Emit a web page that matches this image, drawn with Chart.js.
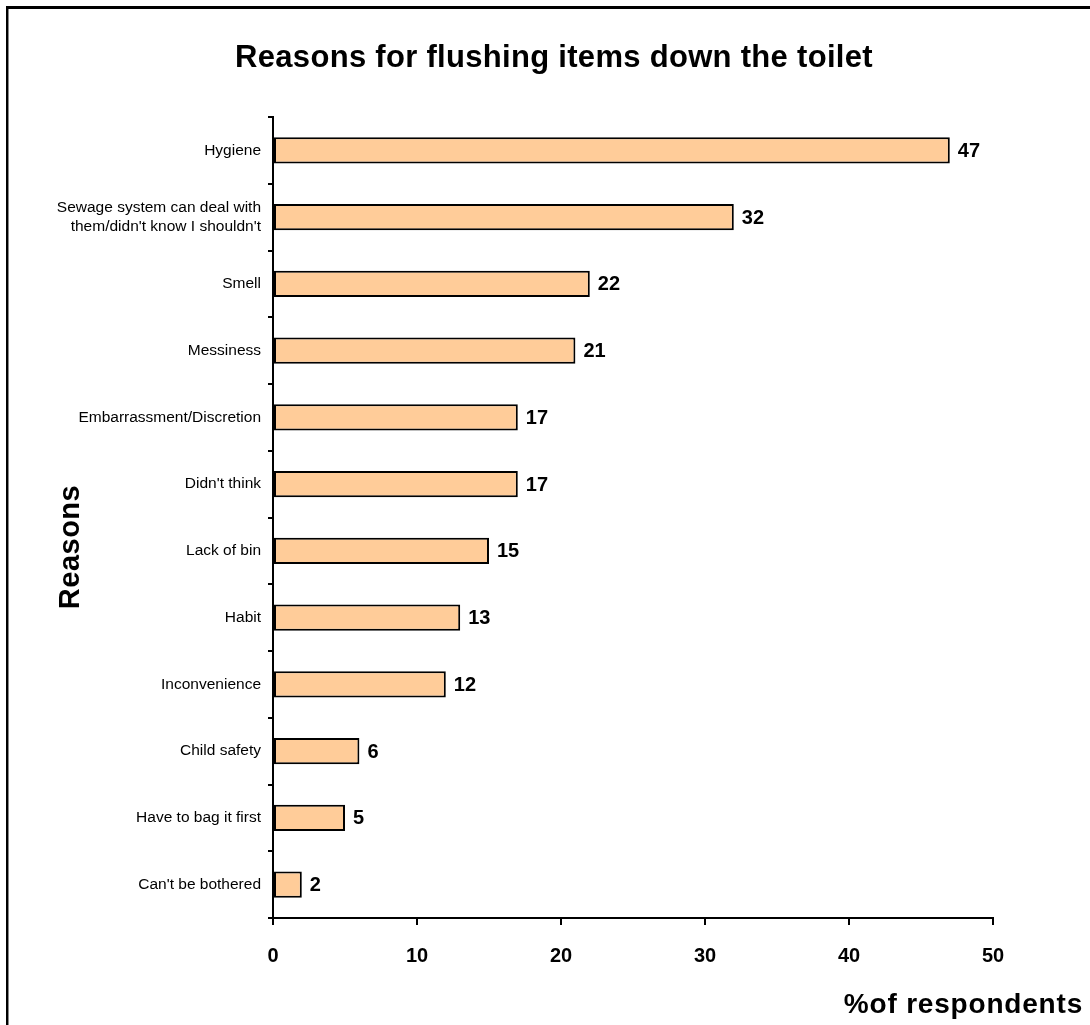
<!DOCTYPE html>
<html><head><meta charset="utf-8">
<script src="https://cdn.jsdelivr.net/npm/chart.js@4/dist/chart.umd.min.js"></script>
<style>html,body{margin:0;padding:0;background:#fff;overflow:hidden}#wrap{position:relative;width:1090px;height:1025px}</style>
</head><body><div id="wrap"><canvas id="c" width="1090" height="1025"></canvas></div>
<script>
const categories = [
  "Hygiene",
  ["Sewage system can deal with", "them/didn't know I shouldn't"],
  "Smell",
  "Messiness",
  "Embarrassment/Discretion",
  "Didn't think",
  "Lack of bin",
  "Habit",
  "Inconvenience",
  "Child safety",
  "Have to bag it first",
  "Can't be bothered"
];
const values = [47, 32, 22, 21, 17, 17, 15, 13, 12, 6, 5, 2];
const xTickValues = [0, 10, 20, 30, 40, 50];
const chartTitle = "Reasons for flushing items down the toilet";
const yTitle = "Reasons";
const xTitle = "%of respondents";

const FONT = "'Liberation Sans', Arial, sans-serif";

function setSpacing(ctx, v) { try { ctx.letterSpacing = v; } catch (e) {} }

const decor = {
  id: 'decor',
  afterDraw(chart) {
    const ctx = chart.ctx;
    ctx.save();
    // frame
    ctx.fillStyle = '#000';
    ctx.fillRect(6, 6, 1084, 3);
    ctx.fillRect(6, 6, 2, 1019);
    ctx.fillStyle = '#888';
    ctx.fillRect(8, 9, 1, 1016);
    // title
    ctx.fillStyle = '#000';
    ctx.font = "bold 31px " + FONT;
    ctx.textAlign = 'center';
    ctx.textBaseline = 'alphabetic';
    setSpacing(ctx, '0.3px');
    ctx.fillText(chartTitle, 554, 67);
    // y title
    ctx.save();
    ctx.translate(71, 547);
    ctx.rotate(-Math.PI / 2);
    ctx.font = "bold 29px " + FONT;
    ctx.textBaseline = 'middle';
    setSpacing(ctx, '0.5px');
    ctx.fillText(yTitle, 0, 0);
    ctx.restore();
    // x title
    ctx.font = "bold 28px " + FONT;
    ctx.textAlign = 'right';
    ctx.textBaseline = 'alphabetic';
    setSpacing(ctx, '0.8px');
    ctx.fillText(xTitle, 1083, 1013);
    setSpacing(ctx, '0px');
    // data labels
    ctx.font = "bold 20px " + FONT;
    ctx.textAlign = 'left';
    ctx.textBaseline = 'middle';
    const meta = chart.getDatasetMeta(0);
    meta.data.forEach((el, i) => {
      ctx.fillText(String(values[i]), el.x + 8, el.y + 1);
    });
    ctx.restore();
  }
};

new Chart(document.getElementById('c'), {
  type: 'bar',
  data: {
    labels: categories,
    datasets: [{
      data: values,
      backgroundColor: '#FFCC99',
      borderColor: '#000',
      borderWidth: 2,
      borderSkipped: false,
      categoryPercentage: 1,
      barPercentage: 0.39
    }]
  },
  options: {
    indexAxis: 'y',
    responsive: false,
    devicePixelRatio: 1,
    animation: false,
    layout: { padding: { left: 0, top: 117, right: 97, bottom: 0 } },
    plugins: { legend: { display: false }, title: { display: false }, tooltip: { enabled: false } },
    scales: {
      x: {
        type: 'linear', min: 0, max: 50,
        afterFit(s) { s.height = 107; },
        afterBuildTicks(s) { s.ticks = xTickValues.map(v => ({ value: v })); },
        ticks: { color: '#000', font: { family: FONT, size: 20, weight: 'bold' }, padding: 19 },
        grid: { display: true, drawOnChartArea: false, drawTicks: true, tickLength: 7, color: '#000', lineWidth: 2 },
        border: { display: true, color: '#000', width: 2 }
      },
      y: {
        type: 'category',
        afterFit(s) { s.width = 273; },
        ticks: { color: '#000', font: { family: FONT, size: 15.5 }, padding: 7, autoSkip: false },
        grid: { display: true, offset: true, drawOnChartArea: false, drawTicks: true, tickLength: 5, color: '#000', lineWidth: 2 },
        border: { display: true, color: '#000', width: 2 }
      }
    }
  },
  plugins: [decor]
});
</script>
</body></html>
